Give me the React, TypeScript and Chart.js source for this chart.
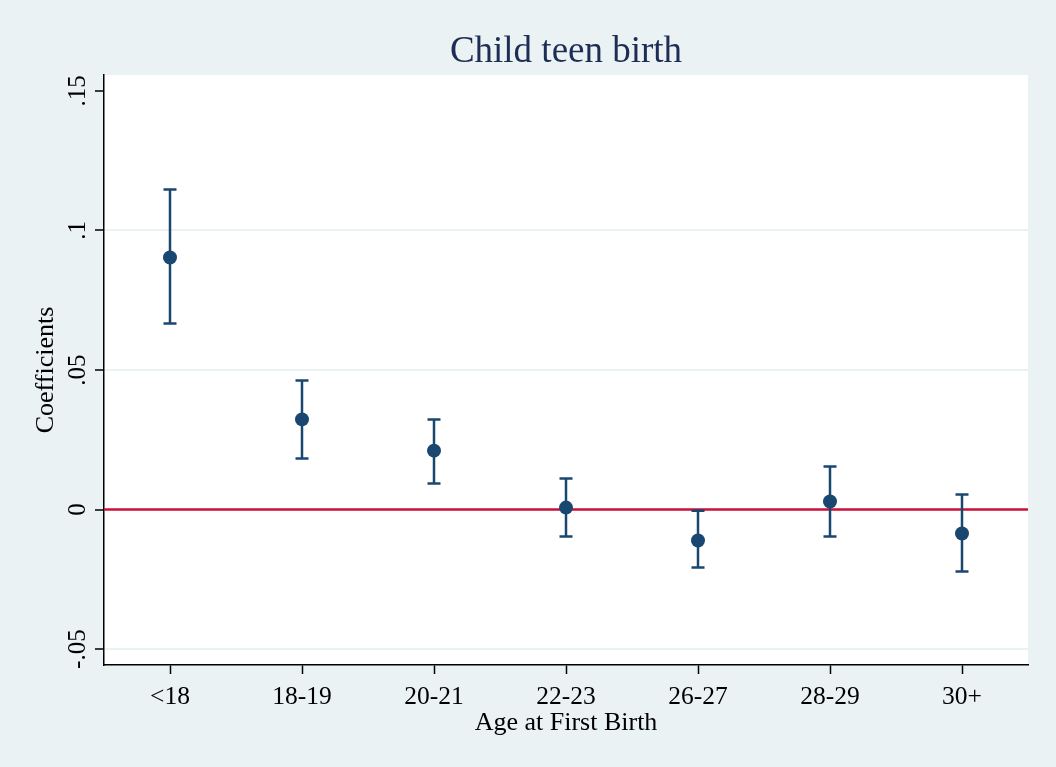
import React, { useEffect, useRef } from "react";
import { Chart, registerables } from "chart.js";

Chart.register(...registerables);

const categories = ["<18", "18-19", "20-21", "22-23", "26-27", "28-29", "30+"];
const coefficients = [0.0903, 0.0323, 0.0211, 0.0007, -0.0111, 0.0029, -0.0086];
const upperCI = [0.1147, 0.0462, 0.0323, 0.0111, -0.0004, 0.0154, 0.0054];
const lowerCI = [0.0667, 0.0183, 0.0093, -0.0097, -0.0208, -0.0097, -0.0222];
const yTickValues = [-0.05, 0, 0.05, 0.1, 0.15];
const yTickLabels = ["-.05", "0", ".05", ".1", ".15"];
const yMin = -0.0557;
const yMax = 0.1557;

const titleText = "Child teen birth";
const xTitle = "Age at First Birth";
const yTitle = "Coefficients";

const SERIF = "'Liberation Serif', 'Times New Roman', serif";
const NAVY = "#1a476f";
const BG = "#eaf2f3";

const plotBgPlugin = {
  id: "plotBg",
  beforeDraw(chart: any) {
    const { ctx, chartArea } = chart;
    ctx.save();
    ctx.fillStyle = "#ffffff";
    ctx.fillRect(chartArea.left, chartArea.top, chartArea.right - chartArea.left, chartArea.bottom - chartArea.top);
    ctx.restore();
  },
};

const errorBarPlugin = {
  id: "errorBars",
  beforeDatasetsDraw(chart: any) {
    const { ctx, chartArea } = chart;
    const xs = chart.scales.x;
    const ys = chart.scales.y;
    // zero reference line
    const y0 = ys.getPixelForValue(0);
    ctx.save();
    ctx.strokeStyle = "#c8103a";
    ctx.lineWidth = 2.5;
    ctx.beginPath();
    ctx.moveTo(chartArea.left, y0);
    ctx.lineTo(chartArea.right, y0);
    ctx.stroke();
    // error bars
    ctx.strokeStyle = NAVY;
    ctx.lineWidth = 2.5;
    const cap = 6.5;
    categories.forEach((_, i) => {
      const x = xs.getPixelForValue(i);
      const yh = ys.getPixelForValue(upperCI[i]);
      const yl = ys.getPixelForValue(lowerCI[i]);
      ctx.beginPath();
      ctx.moveTo(x, yh);
      ctx.lineTo(x, yl);
      ctx.moveTo(x - cap, yh);
      ctx.lineTo(x + cap, yh);
      ctx.moveTo(x - cap, yl);
      ctx.lineTo(x + cap, yl);
      ctx.stroke();
    });
    ctx.restore();
  },
};

const yLabelPlugin = {
  id: "yLabels",
  afterDraw(chart: any) {
    const { ctx } = chart;
    const ys = chart.scales.y;
    ctx.save();
    ctx.fillStyle = "#000000";
    ctx.font = `25px ${SERIF}`;
    ctx.textAlign = "center";
    ctx.textBaseline = "alphabetic";
    yTickValues.forEach((v, i) => {
      const y = ys.getPixelForValue(v);
      ctx.save();
      ctx.translate(85, y);
      ctx.rotate(-Math.PI / 2);
      ctx.fillText(yTickLabels[i], 0, 0);
      ctx.restore();
    });
    ctx.restore();
  },
};

export default function App() {
  const ref = useRef<HTMLCanvasElement | null>(null);

  useEffect(() => {
    if (!ref.current) return;
    const chart = new Chart(ref.current, {
      type: "line",
      data: {
        labels: categories,
        datasets: [
          {
            data: coefficients,
            showLine: false,
            pointRadius: 7,
            pointHoverRadius: 7,
            pointBorderWidth: 0,
            pointBackgroundColor: NAVY,
            borderColor: NAVY,
          },
        ],
      },
      options: {
        animation: false,
        responsive: false,
        events: [],
        layout: { padding: { top: 0, right: 28, bottom: 0, left: 0 } },
        plugins: {
          legend: { display: false },
          tooltip: { enabled: false },
          title: {
            display: true,
            text: titleText,
            fullSize: false,
            color: "#1e2d55",
            font: { family: SERIF, size: 37, weight: "normal" },
            padding: { top: 30, bottom: 0.6 },
          },
        },
        scales: {
          x: {
            type: "category",
            offset: true,
            afterFit(scale: any) {
              scale.height = 102;
            },
            grid: {
              drawOnChartArea: false,
              drawTicks: true,
              tickLength: 9,
              tickColor: "#000000",
              tickWidth: 1.5,
            },
            border: { display: true, color: "#000000", width: 1.5 },
            ticks: {
              color: "#000000",
              font: { family: SERIF, size: 25.5 },
              padding: 8,
              maxRotation: 0,
              autoSkip: false,
            },
            title: {
              display: true,
              text: xTitle,
              color: "#000000",
              font: { family: SERIF, size: 26 },
              padding: { top: 0, bottom: 28 },
            },
          },
          y: {
            type: "linear",
            min: yMin,
            max: yMax,
            afterBuildTicks(scale: any) {
              scale.ticks = yTickValues.map((v) => ({ value: v }));
            },
            afterFit(scale: any) {
              scale.width = 104;
            },
            grid: {
              drawOnChartArea: true,
              drawTicks: true,
              tickLength: 9,
              tickColor: "#000000",
              tickWidth: 1.5,
              lineWidth: 2,
              color: (c: any) =>
                c.tick && (c.tick.value === 0.15 || c.tick.value === 0) ? "rgba(0,0,0,0)" : BG,
            },
            border: { display: true, color: "#000000", width: 1.5 },
            ticks: { display: false },
            title: {
              display: true,
              text: yTitle,
              color: "#000000",
              font: { family: SERIF, size: 26 },
              padding: { top: 31, bottom: 0 },
            },
          },
        },
      },
      plugins: [plotBgPlugin, errorBarPlugin, yLabelPlugin],
    } as any);
    return () => chart.destroy();
  }, []);

  return (
    <div
      style={{
        position: "absolute",
        left: 0,
        top: 0,
        width: 1056,
        height: 767,
        background: BG,
      }}
    >
      <canvas ref={ref} width={1056} height={767} />
    </div>
  );
}
